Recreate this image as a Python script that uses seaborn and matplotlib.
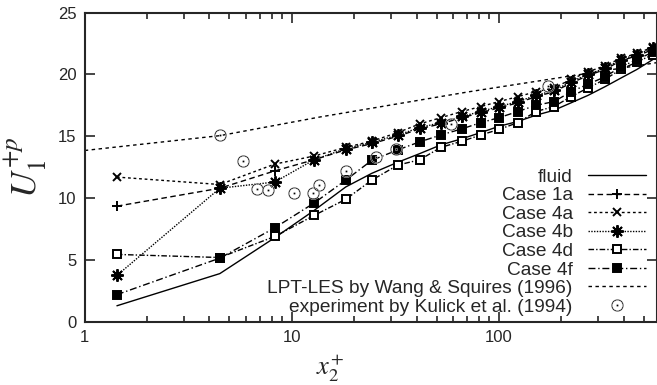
import pandas as pd
import matplotlib
matplotlib.use("Agg")
import matplotlib.pyplot as plt
import seaborn as sns

# wall-normal positions shared by all simulation cases
x_plus = [1.43, 4.49, 8.27, 12.8, 18.2, 24.3, 32.5, 41.5, 52.4, 66.3, 81.8,
          100, 123.5, 151, 184.5, 223, 269, 325, 388, 464, 554]

fluid = [1.3, 3.9, 6.8, 9.0, 10.9, 12.0, 12.9, 13.6, 14.3, 14.8, 15.3,
         15.8, 16.2, 16.7, 17.1, 17.7, 18.3, 19.0, 19.7, 20.4, 21.2]
case_1a = [9.35, 10.8, 12.2, 13.1, 13.9, 14.4, 15.0, 15.6, 16.0, 16.5, 16.9,
           17.3, 17.7, 18.2, 18.6, 19.3, 19.9, 20.4, 21.1, 21.5, 22.0]
case_4a = [11.7, 11.1, 12.75, 13.4, 14.1, 14.6, 15.3, 16.0, 16.5, 17.0, 17.4,
           17.8, 18.2, 18.6, 18.9, 19.6, 20.2, 20.7, 21.3, 21.7, 22.2]
case_4b = [3.75, 10.8, 11.3, 13.1, 14.0, 14.5, 15.1, 15.7, 16.1, 16.6, 17.0,
           17.4, 17.8, 18.3, 18.7, 19.4, 20.0, 20.5, 21.2, 21.6, 22.1]
case_4d = [5.45, 5.2, 6.9, 8.6, 9.9, 11.45, 12.67, 13.1, 14.1, 14.6, 15.1,
           15.55, 16.1, 17.0, 17.4, 18.2, 18.9, 19.6, 20.4, 21.0, 21.6]
case_4f = [2.2, 5.15, 7.6, 9.6, 11.45, 13.05, 13.9, 14.55, 15.1, 15.6, 16.1,
           16.5, 17.0, 17.5, 17.8, 18.6, 19.2, 19.8, 20.6, 21.2, 21.8]

# LPT-LES by Wang & Squires (1996)
les_x = [1, 4.5, 13.6, 72, 238, 580]
les_y = [13.85, 15.05, 16.55, 18.6, 19.95, 20.95]

# experiment by Kulick et al. (1994)
exp_x = [4.5, 5.8, 6.8, 7.7, 10.3, 12.6, 13.5, 18.2, 25.5, 32, 59, 172]
exp_y = [15.1, 13.0, 10.75, 10.65, 10.45, 10.45, 11.05, 12.2, 13.3, 14.0, 16.0, 19.1]

# label: (values, linestyle, marker, marker face, marker size)
cases = {
    "fluid": (fluid, "-", None, "black", 6),
    "Case 1a": (case_1a, (0, (4, 2.5)), "+", "black", 7),
    "Case 4a": (case_4a, (0, (2, 2)), "x", "black", 6),
    "Case 4b": (case_4b, (0, (1, 1)), (8, 2, 0), "black", 9),
    "Case 4d": (case_4d, (0, (4, 1.5, 1, 1.5)), "s", "white", 5.5),
    "Case 4f": (case_4f, (0, (5, 2, 1, 2)), "s", "black", 5.5),
}

sns.set_style("ticks")
plt.rcParams["font.family"] = ["Liberation Sans", "DejaVu Sans"]
plt.rcParams["mathtext.fontset"] = "stix"

fig = plt.figure(figsize=(6.57, 3.85), dpi=100)
ax = fig.add_axes([0.129, 0.164, 0.871, 0.8035])

for label, (vals, ls, mk, face, ms) in cases.items():
    df = pd.DataFrame({"x": x_plus, "y": vals})
    sns.lineplot(data=df, x="x", y="y", ax=ax, color="black", linestyle=ls,
                 linewidth=1.0, marker=mk, markersize=ms, markeredgewidth=1.4,
                 markerfacecolor=face, markeredgecolor="black", label=label)

les = pd.DataFrame({"x": les_x, "y": les_y})
sns.lineplot(data=les, x="x", y="y", ax=ax, color="black", linestyle=(0, (2.5, 2.5)),
             linewidth=1.0, label="LPT-LES by Wang & Squires (1996)")

exp = pd.DataFrame({"x": exp_x, "y": exp_y})
sns.lineplot(data=exp, x="x", y="y", ax=ax, color="black", linestyle="none",
             marker=r"$\odot$", markersize=9, markeredgewidth=0.3,
             label="experiment by Kulick et al. (1994)")

ax.set_xscale("log")
ax.set_xlim(1, 580)
ax.set_ylim(0, 25)
ax.set_yticks([0, 5, 10, 15, 20, 25])
ax.set_xticks([1, 10, 100])
ax.set_xticklabels(["1", "10", "100"])
ax.tick_params(which="both", direction="in", top=True, right=True, labelsize=12,
               width=1.2, pad=6)
ax.tick_params(which="major", length=7)
ax.tick_params(which="minor", length=4)
for s in ax.spines.values():
    s.set_linewidth(1.5)

ax.set_xlabel(r"$x_2^{+}$", fontsize=19)
ax.set_ylabel(r"$U_1^{+p}$", fontsize=26)
ax.xaxis.set_label_coords(0.428, -0.1)
ax.yaxis.set_label_coords(-0.062, 0.5)

ax.legend(loc="lower right", bbox_to_anchor=(0.98, 0.02), frameon=False,
          markerfirst=False, fontsize=13.8, handlelength=3.0, handletextpad=0.8,
          labelspacing=0.06, borderpad=0, borderaxespad=0)

plt.savefig("out.png", dpi=100)
